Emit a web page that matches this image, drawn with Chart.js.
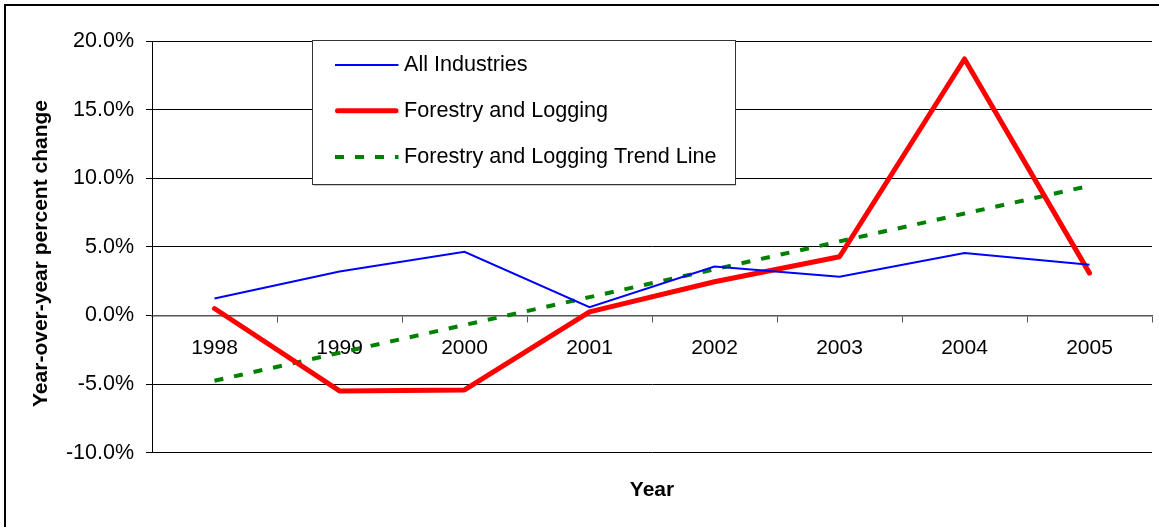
<!DOCTYPE html>
<html>
<head>
<meta charset="utf-8">
<script src="https://cdn.jsdelivr.net/npm/chart.js@4.4.1/dist/chart.umd.min.js"></script>
<style>
  html, body { margin: 0; padding: 0; background: #fff; }
  #wrap { width: 1159px; height: 527px; position: relative; }
</style>
</head>
<body>
<div id="wrap"><canvas id="chart" width="1159" height="527"></canvas></div>
<script>
// Year-over-year percent change, 1998-2005
const years = ['1998', '1999', '2000', '2001', '2002', '2003', '2004', '2005'];
const allIndustries = [1.24, 3.2, 4.64, 0.61, 3.57, 2.82, 4.55, 3.7];
const forestryLogging = [0.51, -5.49, -5.42, 0.27, 2.46, 4.28, 18.69, 3.09];
const forestryTrend = [-4.75, -2.72, -0.69, 1.34, 3.37, 5.40, 7.43, 9.45];
const yTickValues = [-10, -5, 0, 5, 10, 15, 20];

const FONT = "'Liberation Sans', Arial, Helvetica, sans-serif";
Chart.defaults.font.family = FONT;
Chart.defaults.color = '#000';

// Outer frame and the rotated value-axis caption
const frameAndCaption = {
  id: 'frameAndCaption',
  beforeDraw(chart) {
    const { ctx } = chart;
    ctx.save();
    ctx.strokeStyle = '#000';
    ctx.lineWidth = 2;
    ctx.beginPath();
    ctx.moveTo(5, 527);
    ctx.lineTo(5, 5);
    ctx.lineTo(1159, 5);
    ctx.stroke();
    ctx.restore();
  },
  afterDraw(chart) {
    const { ctx } = chart;
    ctx.save();
    ctx.translate(41, 253.5);
    ctx.rotate(-Math.PI / 2);
    ctx.font = 'bold 21px ' + FONT;
    ctx.fillStyle = '#000';
    ctx.textAlign = 'center';
    ctx.textBaseline = 'middle';
    ctx.fillText('Year-over-year percent change', 0, 0);
    ctx.restore();
  }
};

// Boxed legend sitting over the upper part of the plot
const boxLegend = {
  id: 'boxLegend',
  afterDraw(chart) {
    const { ctx } = chart;
    const bx = 312.5, by = 40.5, bw = 423, bh = 144;
    ctx.save();
    ctx.fillStyle = '#fff';
    ctx.fillRect(bx, by, bw, bh);
    ctx.strokeStyle = '#c8c8c8';
    ctx.lineWidth = 1;
    ctx.beginPath();
    ctx.moveTo(bx + 1, by + bh + 1);
    ctx.lineTo(bx + bw + 1, by + bh + 1);
    ctx.stroke();
    ctx.strokeStyle = '#333';
    ctx.strokeRect(bx, by, bw, bh);

    const lineY = [65, 110.7, 157];
    chart.data.datasets.forEach((ds, i) => {
      const y = lineY[i];
      ctx.save();
      ctx.strokeStyle = ds.borderColor;
      ctx.lineWidth = ds.borderWidth;
      ctx.lineCap = ds.borderCapStyle || 'butt';
      ctx.setLineDash(ds.borderDash || []);
      ctx.beginPath();
      const inset = ctx.lineCap === 'round' ? ds.borderWidth / 2 : 0;
      ctx.moveTo(335 + inset, y);
      ctx.lineTo(398.5 - inset, y);
      ctx.stroke();
      ctx.restore();

      ctx.fillStyle = '#000';
      ctx.font = '21.6px ' + FONT;
      ctx.textAlign = 'left';
      ctx.textBaseline = 'alphabetic';
      ctx.fillText(ds.label, 404, y + 6.2);
    });
    ctx.restore();
  }
};

new Chart(document.getElementById('chart'), {
  type: 'line',
  data: {
    labels: years,
    datasets: [
      {
        label: 'All Industries',
        data: allIndustries,
        borderColor: '#0000ff',
        borderWidth: 2,
        pointRadius: 0,
        tension: 0,
        borderCapStyle: 'butt',
        borderJoinStyle: 'miter'
      },
      {
        label: 'Forestry and Logging',
        data: forestryLogging,
        borderColor: '#ff0000',
        borderWidth: 5,
        pointRadius: 0,
        tension: 0,
        borderCapStyle: 'round',
        borderJoinStyle: 'round'
      },
      {
        label: 'Forestry and Logging Trend Line',
        data: forestryTrend,
        borderColor: '#008000',
        borderWidth: 4,
        borderDash: [9, 11],
        pointRadius: 0,
        tension: 0,
        borderCapStyle: 'butt'
      }
    ]
  },
  options: {
    responsive: false,
    animation: false,
    devicePixelRatio: 1,
    layout: { padding: { left: 0, right: 7, top: 41, bottom: 24 } },
    plugins: {
      legend: { display: false },
      tooltip: { enabled: false },
      title: {
        display: true,
        text: 'Year',
        position: 'bottom',
        fullSize: false,
        color: '#000',
        font: { size: 21, weight: 'bold', family: FONT },
        padding: { top: 25, bottom: 0 }
      }
    },
    scales: {
      x: {
        type: 'category',
        position: { y: 0 },
        offset: true,
        afterFit(scale) { scale.height = 0; },
        border: { display: true, color: '#555', width: 1.5 },
        grid: {
          display: true,
          offset: true,
          drawOnChartArea: false,
          drawTicks: true,
          tickLength: 6,
          color: '#555'
        },
        ticks: {
          color: '#000',
          padding: 14,
          maxRotation: 0,
          autoSkip: false,
          font: { size: 21, family: FONT }
        }
      },
      y: {
        min: -10,
        max: 20,
        afterBuildTicks(scale) {
          scale.ticks = yTickValues.map(v => ({ value: v }));
        },
        afterFit(scale) { scale.width = 152; },
        border: { display: true, color: '#000', width: 1 },
        grid: {
          color: '#000',
          lineWidth: 1,
          drawTicks: true,
          tickLength: 6
        },
        ticks: {
          color: '#000',
          padding: 12,
          font: { size: 21.5, family: FONT },
          callback: v => Number(v).toFixed(1) + '%'
        }
      }
    }
  },
  plugins: [frameAndCaption, boxLegend]
});
</script>
</body>
</html>
